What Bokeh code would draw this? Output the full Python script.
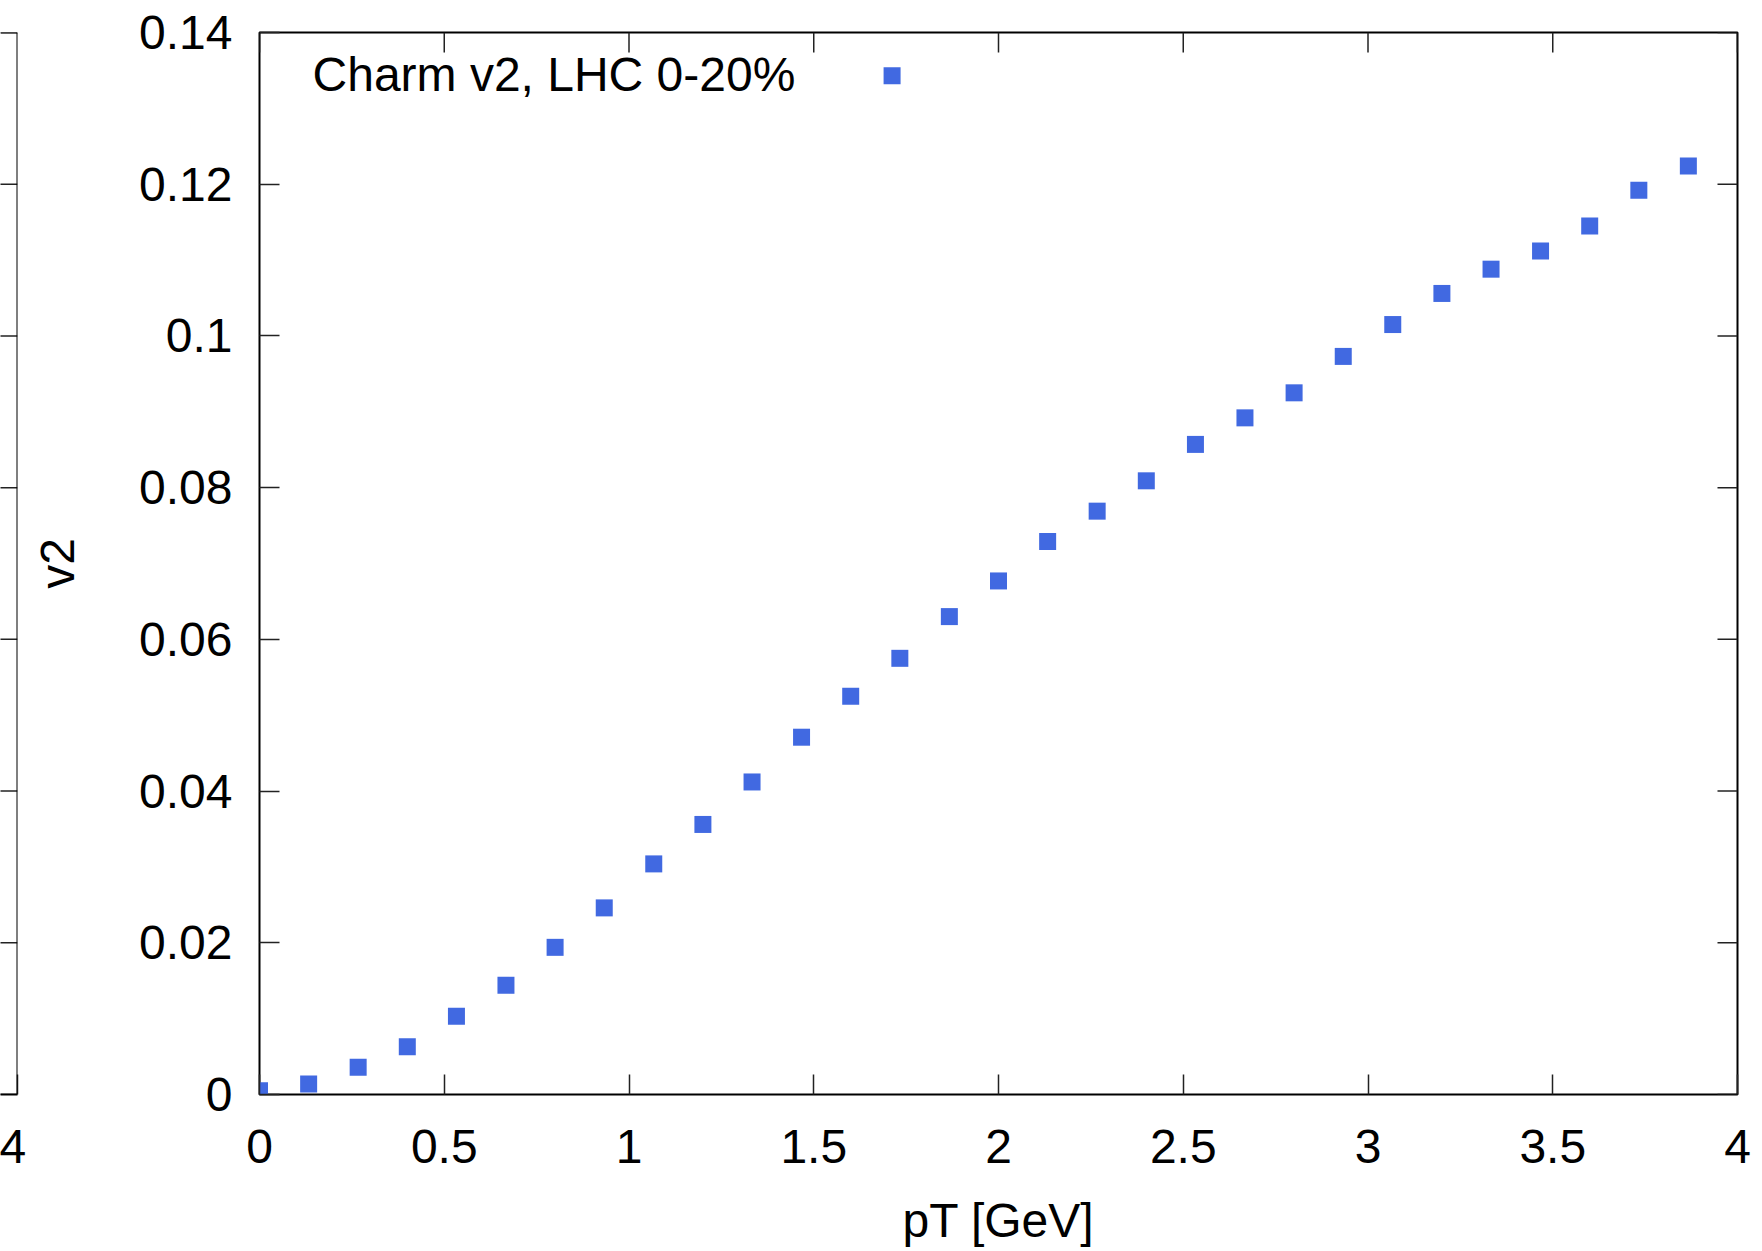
import math
from bokeh.plotting import figure
from bokeh.models import Range1d, FixedTicker, Label, Span
from bokeh.layouts import row
from bokeh.embed import file_html
from bokeh.resources import INLINE

# ---------------- data ----------------
pt = [0.0, 0.133, 0.267, 0.4, 0.533, 0.667, 0.8, 0.933, 1.067, 1.2,
      1.333, 1.467, 1.6, 1.733, 1.867, 2.0, 2.133, 2.267, 2.4, 2.533,
      2.667, 2.8, 2.933, 3.067, 3.2, 3.333, 3.467, 3.6, 3.733, 3.867]
v2 = [0.0005, 0.0014, 0.0036, 0.0063, 0.0103, 0.0144, 0.0194, 0.0246, 0.0304, 0.0356,
      0.0412, 0.0471, 0.0525, 0.0575, 0.0630, 0.0677, 0.0729, 0.0769, 0.0809, 0.0857,
      0.0892, 0.0925, 0.0973, 0.1015, 0.1056, 0.1088, 0.1112, 0.1145, 0.1192, 0.1224]
x_ticks = [0, 0.5, 1, 1.5, 2, 2.5, 3, 3.5, 4]
x_tick_labels = ["0", "0.5", "1", "1.5", "2", "2.5", "3", "3.5", "4"]
y_ticks = [0, 0.02, 0.04, 0.06, 0.08, 0.1, 0.12, 0.14]
y_tick_labels = ["0", "0.02", "0.04", "0.06", "0.08", "0.1", "0.12", "0.14"]
series_label = "Charm v2, LHC 0-20%"
x_title = "pT [GeV]"
y_title = "v2"
neighbour_x_ticks = [4]
neighbour_x_tick_labels = ["4"]

# ---------------- layout / style constants ----------------
FONT = "Liberation Sans"
FS = "48px"
BLUE = "#4169E1"
TICK_COLOR = "#222222"
H = 1251
TOP = 32
BOTTOM = 157
W_LEFT = 28
W_MAIN = 1762 - W_LEFT
KEY_X, KEY_Y = 1.712, 0.13429          # legend sample position (data units)
KEY_TEXT_X, KEY_TEXT_Y = 0.1435, 0.13447
NEXT_TITLE_X, NEXT_TITLE_Y = 4.096, 0.07  # neighbouring panel's title (cut off)


def style_axis(ax, ticks, labels):
    ax.ticker = FixedTicker(ticks=ticks)
    ax.minor_tick_line_color = None
    ax.major_tick_in = 20
    ax.major_tick_out = 0
    ax.major_tick_line_color = TICK_COLOR
    ax.major_tick_line_width = 1.5
    ax.axis_line_color = None
    ax.major_label_overrides = {t: l for t, l in zip(ticks, labels)}
    ax.major_label_text_font = FONT
    ax.major_label_text_font_size = FS
    ax.major_label_text_color = "black"


# ---------------- main panel ----------------
p = figure(width=W_MAIN, height=H, x_range=Range1d(0, 4), y_range=Range1d(0, 0.14),
           output_backend="svg", toolbar_location=None,
           min_border_left=259 - W_LEFT, min_border_right=25, min_border_top=TOP,
           min_border_bottom=BOTTOM, x_axis_label=x_title, y_axis_label=y_title)
p.grid.visible = False
p.outline_line_color = "black"
p.outline_line_width = 2
p.background_fill_color = "white"
p.border_fill_color = "white"

style_axis(p.xaxis[0], x_ticks, x_tick_labels)
style_axis(p.yaxis[0], y_ticks, y_tick_labels)
p.xaxis[0].major_label_standoff = 35
p.yaxis[0].major_label_standoff = 27
for ax in (p.xaxis[0], p.yaxis[0]):
    ax.axis_label_text_font = FONT
    ax.axis_label_text_font_size = FS
    ax.axis_label_text_font_style = "normal"
    ax.axis_label_text_color = "black"
p.xaxis[0].axis_label_standoff = 28
p.yaxis[0].axis_label_standoff = 52

# mirrored inward ticks on the top and right borders (gnuplot "mirror")
p.ray(x=x_ticks, y=[0.14] * len(x_ticks), length=20, length_units="screen",
      angle=-math.pi / 2, line_color=TICK_COLOR, line_width=1.5)
p.ray(x=[4] * len(y_ticks), y=y_ticks, length=20, length_units="screen",
      angle=math.pi, line_color=TICK_COLOR, line_width=1.5)

p.scatter(pt, v2, marker="square", size=17, fill_color=BLUE, line_color=None)

# key (gnuplot style: text, then sample)
p.add_layout(Label(x=KEY_TEXT_X, y=KEY_TEXT_Y, text=series_label, text_font=FONT,
                   text_font_size=FS, text_color="black", text_baseline="alphabetic",
                   text_align="left"))
p.scatter([KEY_X], [KEY_Y], marker="square", size=17, fill_color=BLUE, line_color=None)

# title of the next panel, cut off by the right edge
p.add_layout(Label(x=NEXT_TITLE_X, y=NEXT_TITLE_Y, text=y_title, text_font=FONT,
                   text_font_size=FS, text_color="black", text_baseline="middle",
                   text_align="center", angle=math.pi / 2))

# ---------------- neighbouring panel sliver (left) ----------------
q = figure(width=W_LEFT, height=H, x_range=Range1d(0, 4), y_range=Range1d(0, 0.14),
           output_backend="svg", toolbar_location=None,
           y_axis_location=None,
           min_border_left=0, min_border_right=W_LEFT - 17, min_border_top=TOP,
           min_border_bottom=BOTTOM)
q.grid.visible = False
q.outline_line_color = None
q.background_fill_color = "white"
q.border_fill_color = "white"
style_axis(q.xaxis[0], neighbour_x_ticks, neighbour_x_tick_labels)
q.xaxis[0].major_label_standoff = 35
q.xaxis[0].axis_line_color = "black"
q.xaxis[0].axis_line_width = 2
q.add_layout(Span(location=4, dimension="height", line_color="black", line_width=2))
q.add_layout(Span(location=0.14, dimension="width", line_color="black", line_width=2))
q.ray(x=[4] * len(y_ticks), y=y_ticks, length=20, length_units="screen",
      angle=math.pi, line_color=TICK_COLOR, line_width=1.5)

layout = row(q, p)
open("out.html", "w").write(file_html(layout, INLINE))
